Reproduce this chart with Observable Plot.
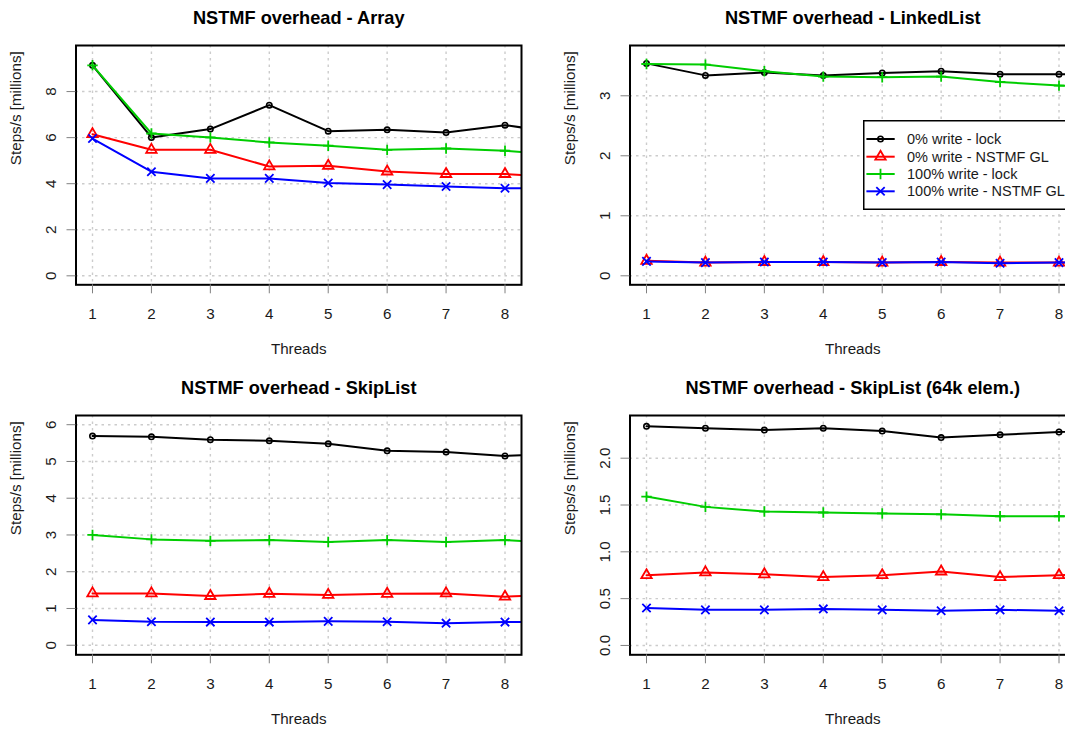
<!DOCTYPE html>
<html>
<head>
<meta charset="utf-8">
<script src="https://cdn.jsdelivr.net/npm/d3@7"></script>
<script src="https://cdn.jsdelivr.net/npm/@observablehq/plot@0.6"></script>
<style>
html, body { margin: 0; padding: 0; background: #fff; overflow: hidden; width: 1065px; height: 729px; }
#root { position: relative; width: 1065px; height: 729px; overflow: hidden; font-family: "Liberation Sans", Arial, sans-serif; }
.panel { position: absolute; width: 532px; height: 365px; }
.panel svg { max-width: none !important; width: 532px; height: 365px; }
</style>
</head>
<body>
<div id="root"></div>
<script>
// ---------------- DATA ----------------
const threads = [1, 2, 3, 4, 5, 6, 7, 8, 9];
const xTicks = [1, 2, 3, 4, 5, 6, 7, 8];
const seriesNames = ["0% write - lock", "0% write - NSTMF GL", "100% write - lock", "100% write - NSTMF GL"];
const seriesColors = ["#000000", "#ff0000", "#00cd00", "#0000ff"];
const panelTitles = [
  "NSTMF overhead - Array",
  "NSTMF overhead - LinkedList",
  "NSTMF overhead - SkipList",
  "NSTMF overhead - SkipList (64k elem.)"
];
const xLabel = "Threads";
const yLabel = "Steps/s [millions]";

// Array
const arrayLock0   = [9.14, 6.01, 6.37, 7.41, 6.28, 6.34, 6.22, 6.54, 6.19];
const arrayNstmf0  = [6.15, 5.47, 5.47, 4.75, 4.78, 4.53, 4.42, 4.42, 4.28];
const arrayLock100 = [9.14, 6.18, 6.01, 5.79, 5.65, 5.47, 5.53, 5.43, 5.25];
const arrayNstmf100= [5.96, 4.52, 4.23, 4.23, 4.03, 3.96, 3.88, 3.80, 3.80];
// LinkedList
const llLock0   = [3.54, 3.34, 3.39, 3.34, 3.38, 3.41, 3.36, 3.36, 3.36];
const llNstmf0  = [0.25, 0.22, 0.23, 0.23, 0.22, 0.23, 0.22, 0.22, 0.22];
const llLock100 = [3.53, 3.52, 3.41, 3.32, 3.31, 3.32, 3.23, 3.17, 3.13];
const llNstmf100= [0.24, 0.22, 0.23, 0.23, 0.22, 0.23, 0.21, 0.22, 0.22];
// SkipList
const slLock0   = [5.69, 5.67, 5.59, 5.56, 5.48, 5.29, 5.26, 5.15, 5.22];
const slNstmf0  = [1.41, 1.41, 1.34, 1.40, 1.37, 1.40, 1.41, 1.32, 1.38];
const slLock100 = [3.00, 2.88, 2.84, 2.86, 2.81, 2.86, 2.81, 2.86, 2.77];
const slNstmf100= [0.69, 0.64, 0.63, 0.63, 0.65, 0.64, 0.60, 0.63, 0.63];
// SkipList 64k
const sl64Lock0   = [2.34, 2.32, 2.30, 2.32, 2.29, 2.22, 2.25, 2.28, 2.31];
const sl64Nstmf0  = [0.75, 0.78, 0.76, 0.73, 0.75, 0.79, 0.73, 0.75, 0.77];
const sl64Lock100 = [1.59, 1.48, 1.43, 1.42, 1.41, 1.40, 1.38, 1.38, 1.38];
const sl64Nstmf100= [0.40, 0.38, 0.38, 0.39, 0.38, 0.37, 0.38, 0.37, 0.37];

const yTicksArray = [0, 2, 4, 6, 8];
const yTicksLL = [0, 1, 2, 3];
const yTicksSL = [0, 1, 2, 3, 4, 5, 6];
const yTicksSL64 = [0, 0.5, 1, 1.5, 2];

// ---------------- SYMBOLS (R pch 1,2,3,4) ----------------
const symCircle = { draw(ctx, size) { const r = Math.sqrt(size / Math.PI); ctx.moveTo(r, 0); ctx.arc(0, 0, r, 0, 2 * Math.PI); } };
const symTriangle = { draw(ctx, size) { const r = Math.sqrt(size / Math.PI); ctx.moveTo(0, -r); ctx.lineTo(0.866 * r, 0.5 * r); ctx.lineTo(-0.866 * r, 0.5 * r); ctx.closePath(); } };
const symPlus = { draw(ctx, size) { const r = Math.sqrt(size / Math.PI); ctx.moveTo(-r, 0); ctx.lineTo(r, 0); ctx.moveTo(0, -r); ctx.lineTo(0, r); } };
const symTimes = { draw(ctx, size) { const r = Math.sqrt(size / Math.PI) * 0.72; ctx.moveTo(-r, -r); ctx.lineTo(r, r); ctx.moveTo(-r, r); ctx.lineTo(r, -r); } };
const symbols = [symCircle, symTriangle, symPlus, symTimes];
const symbolR = [2.7, 6.0, 5.2, 5.8];
const symbolW = [1.6, 1.8, 1.8, 1.8];

// ---------------- LAYOUT ----------------
const PW = 532, PH = 365;
const margins = { marginLeft: 75.5, marginRight: 11, marginTop: 45, marginBottom: 80.7 };
const panels = [
  { title: panelTitles[0], series: [arrayLock0, arrayNstmf0, arrayLock100, arrayNstmf100], yTicks: yTicksArray, fmt: d3.format("d"), yDomain: [-0.39, 10.0], left: 0, top: 0 },
  { title: panelTitles[1], series: [llLock0, llNstmf0, llLock100, llNstmf100], yTicks: yTicksLL, fmt: d3.format("d"), yDomain: [-0.15, 3.838], left: 553.5, top: 0 },
  { title: panelTitles[2], series: [slLock0, slNstmf0, slLock100, slNstmf100], yTicks: yTicksSL, fmt: d3.format("d"), yDomain: [-0.26, 6.25], left: 0, top: 370.3 },
  { title: panelTitles[3], series: [sl64Lock0, sl64Nstmf0, sl64Lock100, sl64Nstmf100], yTicks: yTicksSL64, fmt: d3.format(".1f"), yDomain: [-0.10, 2.456], left: 553.5, top: 370.3 }
];

const root = document.getElementById("root");
const txt = "#1a1a1a";
const FS = 15.2;

function makePanel(cfg) {
  const rows = [];
  cfg.series.forEach((vals, si) => vals.forEach((v, i) => rows.push({ threads: threads[i], value: v, series: seriesNames[si] })));
  const gridStyle = { stroke: "#cccccc", strokeOpacity: 1, strokeWidth: 1.4, strokeDasharray: "2.5,4" };
  const marks = [
    Plot.gridX(xTicks, gridStyle),
    Plot.gridY(cfg.yTicks, gridStyle)
  ];
  seriesNames.forEach((name, si) => {
    const d = rows.filter(r => r.series === name);
    marks.push(Plot.line(d, { x: "threads", y: "value", stroke: seriesColors[si], strokeWidth: 2, clip: true }));
    marks.push(Plot.dot(d, { x: "threads", y: "value", stroke: seriesColors[si], fill: "none", symbol: symbols[si], r: symbolR[si], strokeWidth: symbolW[si], clip: true }));
  });
  marks.push(Plot.frame({ stroke: "black", strokeWidth: 2 }));
  marks.push(Plot.axisX(xTicks, { tickSize: 9, stroke: "#808080", tickFormat: () => "", label: null }));
  marks.push(Plot.axisY(cfg.yTicks, { tickSize: 9, stroke: "#808080", tickFormat: () => "", label: null }));
  marks.push(Plot.text(xTicks, { x: d => d, frameAnchor: "bottom", dy: 29, text: d => String(d), fontSize: FS, fill: txt, lineAnchor: "middle" }));
  marks.push(Plot.text(cfg.yTicks, { y: d => d, frameAnchor: "left", dx: -24.5, text: d => cfg.fmt(d), fontSize: FS, fill: txt, rotate: -90, textAnchor: "middle", lineAnchor: "middle" }));
  marks.push(Plot.text([cfg.title], { frameAnchor: "top", dy: -27, text: d => d, fontSize: 18.2, fontWeight: "bold", fill: "#000", lineAnchor: "middle" }));
  marks.push(Plot.text([xLabel], { frameAnchor: "bottom", dy: 64.7, text: d => d, fontSize: FS, fill: txt, lineAnchor: "middle" }));
  marks.push(Plot.text([yLabel], { frameAnchor: "left", dx: -59.5, text: d => d, fontSize: FS, fill: txt, rotate: -90, lineAnchor: "middle" }));

  const svg = Plot.plot({
    width: PW, height: PH, ...margins,
    x: { domain: [0.72, 8.28], axis: null },
    y: { domain: cfg.yDomain, axis: null },
    style: { fontFamily: "'Liberation Sans', Arial, sans-serif", fontSize: FS + "px", background: "white", overflow: "visible", maxWidth: "none" },
    marks
  });
  const div = document.createElement("div");
  div.className = "panel";
  div.style.left = cfg.left + "px";
  div.style.top = cfg.top + "px";
  div.appendChild(svg);
  root.appendChild(div);
}
panels.forEach(makePanel);

// ---------------- LEGEND (top-right panel) ----------------
const leg = d3.select(root).append("svg")
  .style("position", "absolute")
  .style("left", "863.3px").style("top", "120px")
  .attr("width", 230).attr("height", 92)
  .style("font-family", "'Liberation Sans', Arial, sans-serif");
leg.append("rect").attr("x", 0.75).attr("y", 0.75).attr("width", 222).attr("height", 88.5)
  .attr("fill", "white").attr("stroke", "black").attr("stroke-width", 1.5);
const rowY = [19, 36.7, 54, 71.3];
seriesNames.forEach((name, i) => {
  const g = leg.append("g");
  g.append("line").attr("x1", 3.4).attr("x2", 31.7).attr("y1", rowY[i]).attr("y2", rowY[i])
    .attr("stroke", seriesColors[i]).attr("stroke-width", 2);
  g.append("path").attr("transform", `translate(17.5,${rowY[i]})`)
    .attr("d", d3.symbol().type(symbols[i]).size(Math.PI * symbolR[i] * symbolR[i])())
    .attr("fill", "none").attr("stroke", seriesColors[i]).attr("stroke-width", symbolW[i]);
  g.append("text").attr("x", 44).attr("y", rowY[i]).attr("dy", "0.35em")
    .attr("font-size", 14.5).attr("fill", txt).text(name);
});
</script>
</body>
</html>
